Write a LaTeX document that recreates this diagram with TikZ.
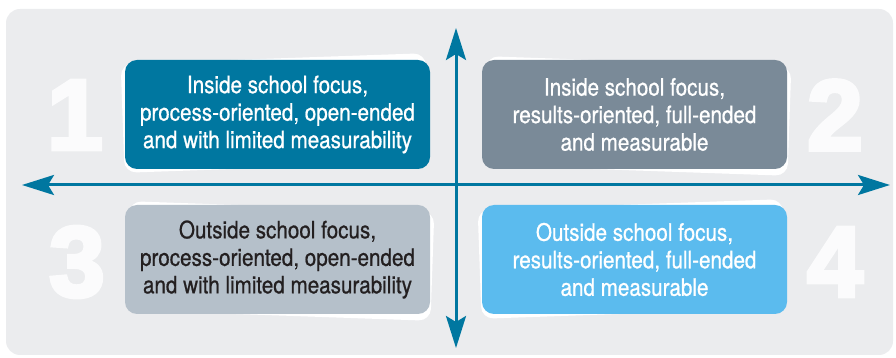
\documentclass[tikz,border=0pt]{standalone}
\usepackage{fontspec}
\setmainfont{TeX Gyre Heros}[FakeStretch=0.86,FakeBold=0.7]
\newfontfamily\numfont{Liberation Sans}[FakeBold=4]
\usetikzlibrary{arrows.meta}
\definecolor{bgc}{HTML}{EBECEE}
\definecolor{axisc}{HTML}{0077A0}
\definecolor{qone}{HTML}{0077A0}
\definecolor{qtwo}{HTML}{7A8A98}
\definecolor{qthree}{HTML}{B5C0CA}
\definecolor{qfour}{HTML}{5BBBEE}
\definecolor{darktext}{HTML}{231F20}
\definecolor{numc}{HTML}{FBFBFC}
\tikzset{
  quad/.style={rounded corners=12pt, minimum width=305pt, minimum height=109pt,
    align=center, inner sep=0pt, font=\fontsize{24}{27.5}\selectfont},
  card/.style={fill=white, rounded corners=12pt},
  axis/.style={draw=axisc, line width=3pt, -{Stealth[length=32pt,width=20pt,inset=6pt]}},
  bignum/.style={text=numc, font=\numfont\bfseries\fontsize{100}{100}\selectfont, inner sep=0pt}
}
\begin{document}
\begin{tikzpicture}[x=1pt,y=1pt]
\useasboundingbox (0,0) rectangle (896,358);
\fill[bgc, rounded corners=14pt] (6,3) rectangle (893,349);
% cards
\fill[card, rotate around={2:(275,245)}] (122.5,190.5) rectangle (427.5,299.5);
\fill[card, rotate around={-2:(637,242)}] (484.5,187.5) rectangle (789.5,296.5);
\fill[card, rotate around={-2:(280,97)}] (127.5,42.5) rectangle (432.5,151.5);
\fill[card, rotate around={2:(632,99)}] (479.5,44.5) rectangle (784.5,153.5);
% numbers
\node[bignum] (n1) at (75,243) {1};
\node[bignum] (n2) at (835,243) {2};
\node[bignum] (n3) at (77,96) {3};
\node[bignum] (n4) at (835,96) {4};
% boxes
\node[quad, fill=qone, text=white] (b1) at (277.5,243.5) {Inside school focus,\\process-oriented, open-ended\\and with limited measurability};
\node[quad, fill=qtwo, text=white] (b2) at (634.5,243.5) {Inside school focus,\\results-oriented, full-ended\\and measurable};
\node[quad, fill=qthree, text=darktext] (b3) at (277.5,98.5) {Outside school focus,\\process-oriented, open-ended\\and with limited measurability};
\node[quad, fill=qfour, text=white] (b4) at (634.5,98.5) {Outside school focus,\\results-oriented, full-ended\\and measurable};
% axes
\coordinate (top) at (456,330);
\coordinate (bot) at (456,10);
\coordinate (lft) at (22,173);
\coordinate (rgt) at (890,173);
\coordinate (mid) at (456,173);
\draw[axis] (mid) -- (top);
\draw[axis] (mid) -- (bot);
\draw[axis] (mid) -- (lft);
\draw[axis] (mid) -- (rgt);
\end{tikzpicture}
\end{document}
